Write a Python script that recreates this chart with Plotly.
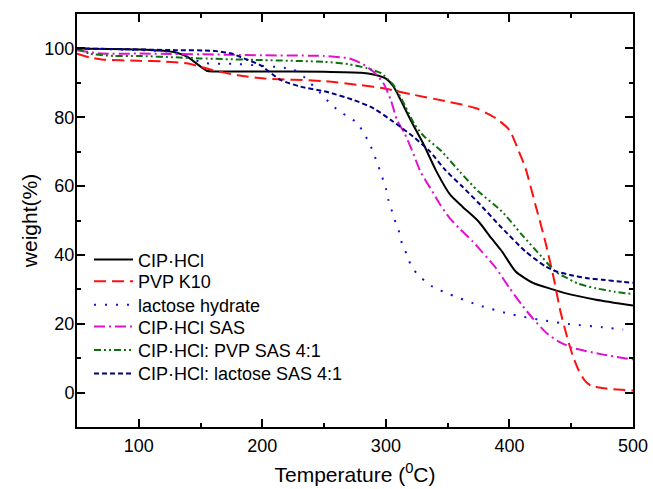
import plotly.graph_objects as go

# ---- data ----
cip_x = [50, 100, 120, 130, 140, 150, 155, 160, 200, 250, 280, 290, 300, 306, 312, 320, 330, 341, 352, 362, 375, 385, 394, 405, 419, 435, 445, 470, 500]
cip_y = [100, 99.7, 99.3, 98.8, 97.4, 94.7, 93.5, 93.3, 93.3, 93.2, 92.9, 92.4, 91.2, 89.0, 85.0, 79.2, 72.5, 64.2, 57.5, 54.0, 49.7, 45.0, 41.0, 35.2, 31.9, 30.0, 28.9, 27.0, 25.3]

pvp_x = [50, 60, 70, 100, 120, 140, 150, 160, 180, 200, 250, 280, 300, 320, 348, 373, 389, 400, 406, 413, 421, 429, 436, 441, 446, 451, 456, 461, 466, 475, 500]
pvp_y = [98.5, 97.4, 96.8, 96.4, 96.2, 95.6, 94.7, 93.7, 92.2, 91.3, 90.5, 89.3, 88.3, 86.7, 84.7, 82.6, 79.7, 76.3, 71.5, 65.2, 54.6, 43.9, 33.0, 24.0, 17.0, 11.0, 6.5, 3.5, 2.0, 1.3, 0.6]

lac_x = [50, 100, 125, 140, 152, 178, 198, 215, 225, 232, 239, 247, 256, 263, 270, 277, 282, 286, 290, 294, 297, 300, 302, 305, 308, 311, 313, 317, 320, 325, 332, 338, 352, 375, 402, 427, 451, 475, 492]
lac_y = [100, 99.5, 99.0, 97.5, 95.8, 95.5, 95.0, 94.5, 93.9, 92.3, 89.9, 87.0, 83.6, 81.6, 80.0, 78.3, 75.4, 72.9, 69.6, 65.7, 62.6, 59.4, 56.0, 52.6, 49.3, 46.4, 43.3, 40.1, 37.2, 34.6, 32.3, 30.7, 28.5, 25.4, 22.7, 21.0, 19.8, 19.0, 18.3]

sas_x = [50, 70, 100, 150, 200, 250, 270, 280, 290, 298, 304, 309, 315, 321, 328, 336, 344, 351, 360, 370, 389, 400, 410, 419, 430, 440, 451, 475, 500]
sas_y = [99.5, 98.5, 98.5, 98.3, 98.0, 97.8, 97.1, 95.7, 93.2, 89.9, 85.0, 79.2, 75.4, 70.5, 64.2, 59.4, 54.6, 51.0, 47.5, 44.0, 36.2, 30.4, 25.5, 21.5, 17.3, 14.8, 13.0, 11.1, 9.6]

pvps_x = [50, 60, 80, 100, 130, 150, 200, 250, 270, 285, 296, 306, 315, 323, 331, 344, 360, 375, 394, 410, 427, 437, 447, 456, 470, 485, 500]
pvps_y = [100, 98.5, 97.8, 97.8, 97.4, 97.1, 96.6, 96.1, 95.4, 94.2, 92.8, 89.4, 83.7, 78.0, 74.4, 70.5, 64.1, 58.4, 52.6, 45.9, 39.1, 35.2, 33.2, 31.6, 30.3, 29.3, 28.6]

lacs_x = [50, 100, 130, 160, 175, 185, 198, 215, 231, 252, 274, 290, 306, 322, 335, 348, 362, 375, 394, 413, 429, 438, 450, 462, 475, 491, 500]
lacs_y = [100, 99.7, 99.5, 99.3, 98.5, 97.1, 95.2, 90.8, 88.9, 87.4, 85.0, 82.6, 78.7, 74.4, 70.3, 64.7, 59.8, 55.1, 47.8, 41.0, 36.7, 35.2, 34.1, 33.3, 32.8, 32.2, 31.9]

names = ["CIP·HCl", "PVP K10", "lactose hydrate", "CIP·HCl SAS",
         "CIP·HCl: PVP SAS 4:1", "CIP·HCl: lactose SAS 4:1"]
xs = [cip_x, pvp_x, lac_x, sas_x, pvps_x, lacs_x]
ys = [cip_y, pvp_y, lac_y, sas_y, pvps_y, lacs_y]
colors = ["#000000", "#FF1010", "#1010E0", "#E010D0", "#107010", "#000080"]
dashes = ["solid", "12px,6px", "2px,9px", "11px,4px,2px,4px",
          "7px,3px,2px,3px,2px,3px", "5px,3px"]
legend_y = [0.4494, 0.3969, 0.3400, 0.2872, 0.2305, 0.1739]

FONT = "Arial, Liberation Sans, sans-serif"

fig = go.Figure()
legend_ids = ["legend"] + ["legend%d" % (i + 2) for i in range(len(names) - 1)]
for x, y, n, c, d, lid in zip(xs, ys, names, colors, dashes, legend_ids):
    fig.add_trace(go.Scatter(x=x, y=y, name=n, mode="lines", legend=lid,
                             showlegend=True,
                             line=dict(color=c, width=2, dash=d,
                                       shape="spline", smoothing=0.6)))

axis_common = dict(showline=True, linecolor="black", linewidth=2,
                   mirror="allticks", ticks="inside", ticklen=8,
                   tickwidth=2, tickcolor="black", showgrid=False,
                   zeroline=False, automargin=False,
                   tickfont=dict(family=FONT, size=18, color="black"))

fig.update_xaxes(range=[50, 500], tick0=0, dtick=100,
                 minor=dict(dtick=50, ticks="inside", ticklen=4,
                            tickwidth=2, tickcolor="black"),
                 title=dict(text="Temperature (<sup>0</sup>C)",
                            font=dict(family=FONT, size=21, color="black"),
                            standoff=13),
                 ticklabelstandoff=1,
                 **axis_common)
fig.update_yaxes(range=[-10, 110], tick0=0, dtick=20,
                 minor=dict(dtick=10, ticks="inside", ticklen=4,
                            tickwidth=2, tickcolor="black"),
                 title=dict(text="weight(%)",
                            font=dict(family=FONT, size=21, color="black"),
                            standoff=1),
                 ticklabelstandoff=-3,
                 **axis_common)

legends = {}
for lid, ly in zip(legend_ids, legend_y):
    legends[lid] = dict(x=0.0216, y=ly, xanchor="left", yanchor="top",
                        bgcolor="rgba(0,0,0,0)",
                        font=dict(family=FONT, size=18, color="black"),
                        itemwidth=39)

fig.update_layout(
    width=653, height=489,
    margin=dict(l=77, r=20, t=14, b=62, autoexpand=False),
    paper_bgcolor="white", plot_bgcolor="white",
    font=dict(family=FONT, color="black"),
    showlegend=True,
    **legends,
)

fig.write_html("out.html",
               config={"displayModeBar": False},
               post_script="document.body.style.margin='0';"
                           "document.body.style.overflow='hidden';")
